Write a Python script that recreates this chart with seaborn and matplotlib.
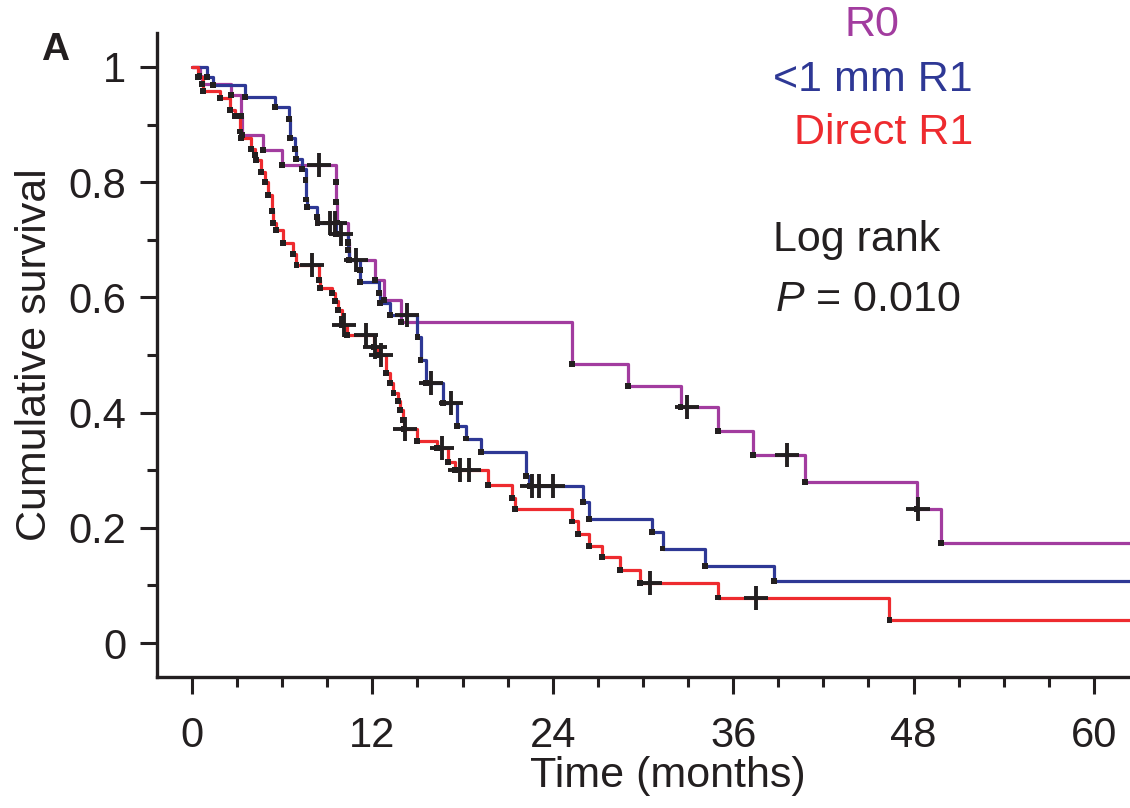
import numpy as np
import pandas as pd
import matplotlib
matplotlib.use("Agg")
import matplotlib.pyplot as plt
from matplotlib.ticker import MultipleLocator, FixedLocator
import seaborn as sns

# Kaplan-Meier curves: event times (months) and survival after each event
GROUPS = ["R0", "<1 mm R1", "Direct R1"]
COLORS = {"R0": "#a23c9f", "<1 mm R1": "#2e3895", "Direct R1": "#ee2b2f"}

r0_time = [0.5, 0.65, 2.6, 3.25, 3.35, 4.7, 6.0, 9.55, 9.6, 9.65, 10.4, 10.45,
           12.2, 12.8, 13.9, 25.3, 29.0, 32.5, 35.0, 37.3, 40.8, 48.2, 49.8]
r0_surv = [0.985, 0.971, 0.951, 0.915, 0.882, 0.856, 0.83, 0.80, 0.765, 0.73, 0.697, 0.665,
           0.63, 0.595, 0.558, 0.484, 0.446, 0.409, 0.368, 0.327, 0.28, 0.233, 0.174]
r0_cens = [8.45, 32.9, 39.6, 48.3]

mm_time = [1.0, 1.4, 3.5, 5.5, 6.45, 6.5, 6.85, 6.9, 7.3, 7.55, 7.6, 7.65, 8.3, 8.35,
           9.6, 10.35, 10.4, 10.45, 11.15, 11.2, 12.45, 12.5, 13.2, 15.0, 15.2, 15.55,
           16.7, 17.6, 18.2, 19.2, 22.2, 22.45, 26.0, 26.4, 30.6, 31.3, 34.1, 38.7]
mm_surv = [0.983, 0.969, 0.948, 0.931, 0.909, 0.876, 0.858, 0.84, 0.823, 0.804, 0.77, 0.757, 0.74, 0.729,
           0.71, 0.694, 0.682, 0.665, 0.648, 0.627, 0.607, 0.59, 0.569, 0.532, 0.491, 0.451,
           0.416, 0.376, 0.355, 0.332, 0.29, 0.273, 0.245, 0.216, 0.192, 0.164, 0.134, 0.108]
mm_cens = [9.2, 9.5, 9.9, 10.9, 14.3, 15.9, 17.2, 22.6, 23.1, 24.0]

dr_time = [0.4, 0.7, 0.75, 1.85, 2.5, 2.85, 3.2, 3.25, 3.9, 4.2, 4.25, 4.6, 4.85, 5.05, 5.35,
           5.4, 5.6, 6.05, 6.7, 6.95, 8.45, 8.5, 9.3, 9.5, 9.7, 9.95, 10.0, 10.3, 12.1, 12.4,
           12.9, 13.15, 13.4, 13.7, 13.85, 14.05, 14.1, 14.95, 16.3, 17.0, 17.5, 19.7, 21.3,
           21.5, 25.3, 25.7, 26.4, 27.3, 28.5, 29.8, 35.0, 46.4]
dr_surv = [0.983, 0.97, 0.958, 0.946, 0.926, 0.915, 0.888, 0.876, 0.857, 0.847, 0.839, 0.818, 0.80, 0.778, 0.75,
           0.729, 0.717, 0.694, 0.676, 0.656, 0.63, 0.616, 0.607, 0.593, 0.578, 0.563, 0.552, 0.535, 0.514, 0.50,
           0.468, 0.451, 0.434, 0.42, 0.405, 0.387, 0.372, 0.35, 0.338, 0.315, 0.30, 0.274, 0.251,
           0.232, 0.211, 0.19, 0.168, 0.149, 0.126, 0.104, 0.079, 0.040]
dr_cens = [7.95, 10.1, 11.6, 12.2, 12.6, 14.2, 16.6, 17.8, 18.4, 30.5, 37.5]

X_TICKS = [0, 12, 24, 36, 48, 60]
Y_TICKS = [0, 0.2, 0.4, 0.6, 0.8, 1]
Y_TICK_LABELS = ["0", "0.2", "0.4", "0.6", "0.8", "1"]
X_MAX = 62.4
INK = "#231f20"


def surv_at(times, surv, t):
    idx = np.searchsorted(times, t, side="right") - 1
    return 1.0 if idx < 0 else surv[idx]


curves = {
    "R0": (r0_time, r0_surv, r0_cens),
    "<1 mm R1": (mm_time, mm_surv, mm_cens),
    "Direct R1": (dr_time, dr_surv, dr_cens),
}

line_rows, event_rows, cens_rows = [], [], []
for g in GROUPS:
    t, s, c = curves[g]
    for tt, ss in zip([0] + t + [X_MAX + 1], [1.0] + s + [s[-1]]):
        line_rows.append({"group": g, "time": tt, "surv": ss})
    for tt, ss in zip(t, s):
        event_rows.append({"group": g, "time": tt, "surv": ss})
    for cc in c:
        cens_rows.append({"group": g, "time": cc, "surv": surv_at(t, s, cc)})

lines_df = pd.DataFrame(line_rows)
events_df = pd.DataFrame(event_rows)
cens_df = pd.DataFrame(cens_rows)

sns.set_style("ticks")
plt.rcParams["font.family"] = ["Liberation Sans", "DejaVu Sans"]
plt.rcParams["mathtext.fontset"] = "custom"
plt.rcParams["mathtext.it"] = "Liberation Sans:italic"
plt.rcParams["mathtext.rm"] = "Liberation Sans"

W, H = 1130, 808
fig = plt.figure(figsize=(W / 100, H / 100), dpi=100)
ax = fig.add_axes([157 / W, 131 / H, (W - 157) / W, (677 - 33) / H])

sns.lineplot(data=lines_df, x="time", y="surv", hue="group", palette=COLORS,
             estimator=None, sort=False, drawstyle="steps-post", linewidth=2.3,
             legend=False, ax=ax)
sns.scatterplot(data=events_df, x="time", y="surv", marker="s", color=INK,
                s=18, edgecolor="none", legend=False, ax=ax, zorder=3)
sns.scatterplot(data=cens_df, x="time", y="surv", marker="+", color=INK,
                s=280, linewidth=2.8, legend=False, ax=ax, zorder=4)

ax.set_xlim(-2.33, X_MAX)
ax.set_ylim(-0.059, 1.059)
ax.set_xticks(X_TICKS)
ax.xaxis.set_minor_locator(MultipleLocator(3))
ax.set_yticks(Y_TICKS)
ax.set_yticklabels(Y_TICK_LABELS)
ax.yaxis.set_minor_locator(FixedLocator(np.arange(0.1, 1.0, 0.2)))
ax.tick_params(which="major", length=12, width=2.2, labelsize=30, color=INK, labelcolor=INK)
ax.tick_params(which="minor", length=7, width=2.2, color=INK)
ax.tick_params(axis="x", which="major", pad=16)
ax.tick_params(axis="y", which="major", pad=10)
ax.set_xlabel("")
ax.set_ylabel("")
sns.despine(ax=ax)
for sp in ["left", "bottom"]:
    ax.spines[sp].set_linewidth(2.4)
    ax.spines[sp].set_color(INK)

fig.text(668 / W, 1 - 776 / H, "Time (months)", ha="center", va="center", fontsize=31, color=INK)
fig.text(35 / W, 1 - 355 / H, "Cumulative survival", ha="center", va="center",
         rotation=90, fontsize=31, color=INK)
fig.text(55 / W, 1 - 50 / H, "A", ha="center", va="center", fontsize=28, fontweight="bold", color=INK)

fig.text(872 / W, 1 - 25 / H, "R0", ha="center", va="center", fontsize=31, color=COLORS["R0"])
fig.text(973 / W, 1 - 80 / H, "<1 mm R1", ha="right", va="center", fontsize=31,
         color=COLORS["<1 mm R1"])
fig.text(973 / W, 1 - 133 / H, "Direct R1", ha="right", va="center", fontsize=31,
         color=COLORS["Direct R1"])
fig.text(773 / W, 1 - 240 / H, "Log rank", ha="left", va="center", fontsize=31, color=INK)
fig.text(775 / W, 1 - 300 / H, "$P$ = 0.010", ha="left", va="center", fontsize=31, color=INK)

fig.savefig("out.png", dpi=100)
